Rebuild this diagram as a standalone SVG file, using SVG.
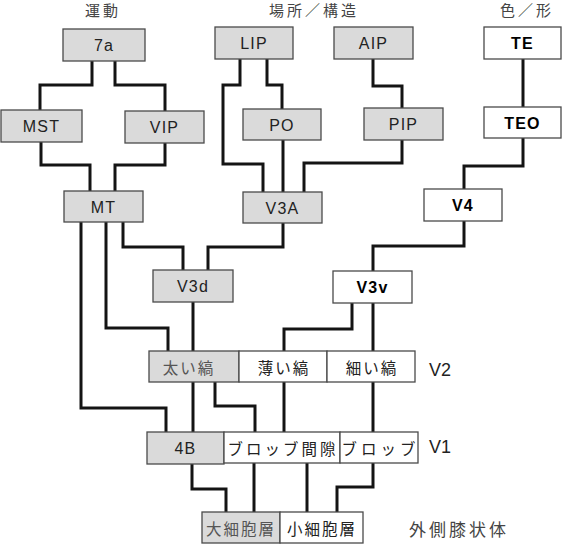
<svg xmlns="http://www.w3.org/2000/svg" width="562" height="544" viewBox="0 0 562 544">
<style>
.g{fill:#dadada;stroke:#4a4a4a;stroke-width:1.3}
.w{fill:#ffffff;stroke:#4a4a4a;stroke-width:1.3}
.t{font-family:"Liberation Sans",Arial,sans-serif;font-size:16px;fill:#222;text-anchor:middle;dominant-baseline:central;letter-spacing:1.2px}
.b{font-weight:bold;fill:#000}
.j{font-family:"Noto Sans CJK JP",sans-serif;font-size:15.5px;fill:#222;text-anchor:middle;dominant-baseline:central;letter-spacing:2px}
.jl{fill:#555}
.h{font-family:"Noto Sans CJK JP",sans-serif;font-size:15px;fill:#444;text-anchor:middle;dominant-baseline:central;letter-spacing:3px}
.s{font-family:"Liberation Sans",Arial,sans-serif;font-size:18px;fill:#222;dominant-baseline:central}
.c{fill:none;stroke:#141414;stroke-width:3;stroke-linejoin:miter;stroke-linecap:butt}
</style>
<rect width="562" height="544" fill="#fff"/>
<g id="headers">
<text class="h" x="103" y="9">運動</text>
<text class="h" x="314" y="9">場所／構造</text>
<text class="h" x="527" y="9">色／形</text>
</g>
<g id="connectors">
<path class="c" d="M92,61 V85 H40 V110"/>
<path class="c" d="M115,61 V85 H165 V111"/>
<path class="c" d="M41,142 V165 H90 V191"/>
<path class="c" d="M165,143 V165 H115 V191"/>
<path class="c" d="M240,59 V85 H223 V164 H263 V192"/>
<path class="c" d="M267,59 V85 H282 V109"/>
<path class="c" d="M283,140 V192"/>
<path class="c" d="M373,59 V86 H402 V108"/>
<path class="c" d="M402,140 V163 H304 V192"/>
<path class="c" d="M523,59 V107"/>
<path class="c" d="M523,138 V166 H464 V189"/>
<path class="c" d="M464,221 V246 H373 V271"/>
<path class="c" d="M123,222 V247 H183 V270"/>
<path class="c" d="M283,223 V247 H208 V270"/>
<path class="c" d="M193,302 V351"/>
<path class="c" d="M106,222 V328 H168 V351"/>
<path class="c" d="M81,222 V408 H166 V433"/>
<path class="c" d="M352,303 V329 H284 V351"/>
<path class="c" d="M373,303 V351"/>
<path class="c" d="M193,382 V432"/>
<path class="c" d="M215,382 V406 H255 V432"/>
<path class="c" d="M284,382 V432"/>
<path class="c" d="M373,382 V432"/>
<path class="c" d="M192,464 V489 H226 V512"/>
<path class="c" d="M254,463 V512"/>
<path class="c" d="M307,463 V512"/>
<path class="c" d="M373,463 V487 H337 V512"/>
</g>
<g id="n7a"><rect class="g" x="63" y="29" width="82" height="32"/><text class="t" x="104" y="45">7a</text></g>
<g id="nMST"><rect class="g" x="1" y="110" width="81" height="32"/><text class="t" x="41.5" y="126">MST</text></g>
<g id="nVIP"><rect class="g" x="125" y="111" width="79" height="32"/><text class="t" x="164.5" y="127">VIP</text></g>
<g id="nMT"><rect class="g" x="64" y="191" width="79" height="31"/><text class="t" x="103.5" y="207">MT</text></g>
<g id="nLIP"><rect class="g" x="215" y="27" width="78" height="32"/><text class="t" x="254" y="43">LIP</text></g>
<g id="nPO"><rect class="g" x="243" y="109" width="78" height="31"/><text class="t" x="282" y="125">PO</text></g>
<g id="nV3A"><rect class="g" x="243" y="192" width="79" height="31"/><text class="t" x="282.5" y="208">V3A</text></g>
<g id="nAIP"><rect class="g" x="334" y="27" width="79" height="32"/><text class="t" x="373.5" y="43">AIP</text></g>
<g id="nPIP"><rect class="g" x="364" y="108" width="79" height="32"/><text class="t" x="403.5" y="124">PIP</text></g>
<g id="nTE"><rect class="w" x="484" y="27" width="77" height="32"/><text class="t b" x="522.5" y="43">TE</text></g>
<g id="nTEO"><rect class="w" x="484" y="107" width="77" height="31"/><text class="t b" x="522.5" y="123">TEO</text></g>
<g id="nV4"><rect class="w" x="424" y="189" width="78" height="32"/><text class="t b" x="463" y="205">V4</text></g>
<g id="nV3d"><rect class="g" x="153" y="270" width="80" height="32"/><text class="t" x="193" y="286">V3d</text></g>
<g id="nV3v"><rect class="w" x="333" y="271" width="79" height="32"/><text class="t b" x="372.5" y="287">V3v</text></g>
<g id="nThick"><rect class="g" x="149" y="351" width="90" height="31"/><text class="j jl" x="189" y="367">太い縞</text></g>
<g id="nPale"><rect class="w" x="239" y="351" width="88" height="31"/><text class="j" x="284" y="367">薄い縞</text></g>
<g id="nThin"><rect class="w" x="327" y="351" width="88" height="31"/><text class="j" x="372" y="367">細い縞</text></g>
<g id="n4B"><rect class="g" x="147" y="432" width="77" height="32"/><text class="t" x="185.5" y="448">4B</text></g>
<g id="nInterblob"><rect class="w" x="224" y="432" width="116" height="31"/><text class="j" x="283" y="448" style="letter-spacing:3px">ブロッブ間隙</text></g>
<g id="nBlob"><rect class="w" x="340" y="432" width="78" height="31"/><text class="j" x="380.5" y="448" style="letter-spacing:4px">ブロッブ</text></g>
<g id="nMagno"><rect class="g" x="202" y="512" width="78" height="31"/><text class="j jl" x="241" y="528" style="letter-spacing:2px">大細胞層</text></g>
<g id="nParvo"><rect class="w" x="280" y="512" width="83" height="31"/><text class="j" x="322" y="528" style="letter-spacing:2px">小細胞層</text></g>
<g id="labels">
<text class="s" x="429" y="370">V2</text>
<text class="s" x="429" y="447">V1</text>
<text class="h" x="459" y="528" style="font-size:17px">外側膝状体</text>
</g>
</svg>
